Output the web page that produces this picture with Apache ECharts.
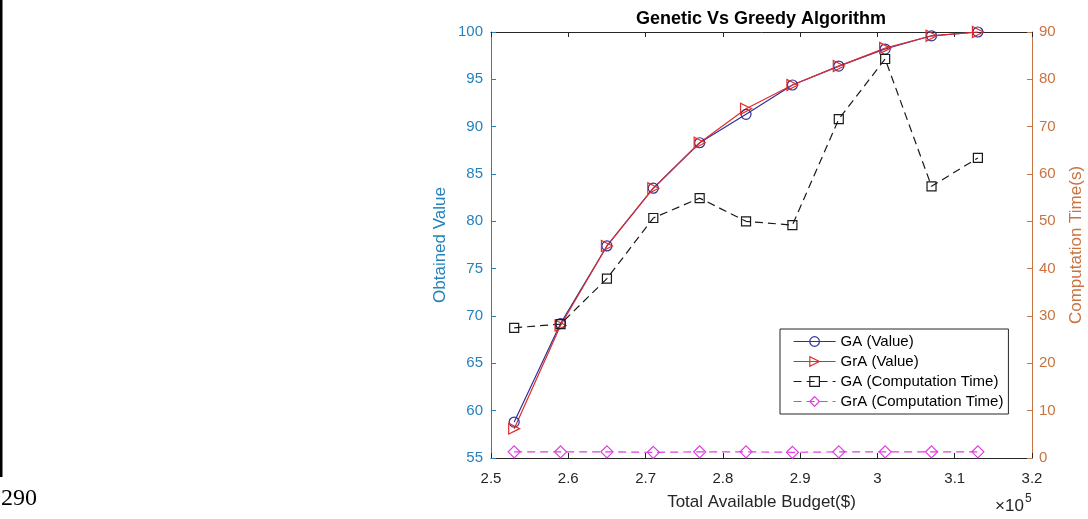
<!DOCTYPE html>
<html>
<head>
<meta charset="utf-8">
<script src="https://cdn.jsdelivr.net/npm/echarts@6/dist/echarts.min.js"></script>
<style>
  html, body { margin: 0; padding: 0; background: #fff; }
  #chart { width: 1088px; height: 519px; }
</style>
</head>
<body>
<div id="chart"></div>
<script>
// budget in $ (axis shows x 10^5)
const budget = [253000, 259000, 265000, 271000, 277000, 283000, 289000, 295000, 301000, 307000, 313000]
const gaValue = [58.8, 69.2, 77.4, 83.5, 88.3, 91.3, 94.4, 96.4, 98.2, 99.6, 100]
const graValue = [58.1, 69.0, 77.4, 83.5, 88.3, 91.9, 94.4, 96.4, 98.3, 99.6, 100]
const gaTime = [27.5, 28.3, 37.9, 50.7, 54.9, 50.0, 49.2, 71.6, 84.3, 57.4, 63.4]
const graTime = [1.3, 1.3, 1.3, 1.2, 1.3, 1.3, 1.2, 1.3, 1.3, 1.3, 1.3]

const FONT = '"Liberation Sans", Arial, Helvetica, sans-serif'
const LEFT_C = '#2382BC'
const RIGHT_C = '#C97340'
const AXIS_C = '#262626'

const pairs = (ys) => budget.map((x, i) => [x, ys[i]])

const chart = echarts.init(document.getElementById('chart'))

const xBase = {
  type: 'value',
  min: 250000,
  max: 320000,
  interval: 10000,
  splitLine: { show: false },
  axisLine: { lineStyle: { color: AXIS_C, width: 1 } },
  axisTick: { inside: true, length: 5, lineStyle: { color: AXIS_C } }
}

const lineSeries = (name, data, color, symbol, size, yIdx, dashed, rotate) => ({
  name: name,
  type: 'line',
  data: data,
  yAxisIndex: yIdx,
  symbol: symbol,
  symbolSize: size,
  symbolRotate: rotate || 0,
  showAllSymbol: true,
  lineStyle: { color: color, width: 1.2, type: dashed ? [8, 5] : 'solid' },
  itemStyle: { color: 'rgba(0,0,0,0)', borderColor: color, borderWidth: 1.2 },
  emphasis: { disabled: true },
  animation: false
})

chart.setOption({
  animation: false,
  textStyle: { fontFamily: FONT },
  title: {
    text: 'Genetic Vs Greedy Algorithm',
    left: 636,
    top: 10,
    padding: 0,
    textStyle: { fontFamily: FONT, fontSize: 18, fontWeight: 'bold', color: '#000' }
  },
  grid: { left: 491, right: 56, top: 32, bottom: 61 },
  legend: {
    orient: 'vertical',
    left: 780,
    top: 329,
    padding: [5, 5, 5, 13],
    itemGap: 5,
    itemWidth: 42,
    itemHeight: 12,
    backgroundColor: '#fff',
    borderColor: AXIS_C,
    borderWidth: 1,
    borderRadius: 0,
    lineStyle: { width: 1.2 },
    itemStyle: { borderWidth: 1.2 },
    textStyle: { fontFamily: FONT, fontSize: 15, lineHeight: 15, color: '#000' },
    data: ['GA (Value)', 'GrA (Value)', 'GA (Computation Time)', 'GrA (Computation Time)']
  },
  xAxis: [
    Object.assign({}, xBase, {
      position: 'bottom',
      name: 'Total Available Budget($)',
      nameLocation: 'middle',
      nameGap: 36,
      nameTextStyle: { fontFamily: FONT, fontSize: 17, color: AXIS_C },
      axisLabel: {
        margin: 13,
        fontSize: 15,
        color: AXIS_C,
        formatter: (v) => String(+(v / 1e5).toFixed(2))
      }
    }),
    Object.assign({}, xBase, {
      position: 'top',
      axisLabel: { show: false }
    })
  ],
  yAxis: [
    {
      type: 'value',
      position: 'left',
      min: 55,
      max: 100,
      interval: 5,
      splitLine: { show: false },
      axisLine: { show: true, lineStyle: { color: LEFT_C, width: 1 } },
      axisTick: { show: true, inside: true, length: 5, lineStyle: { color: LEFT_C } },
      axisLabel: { margin: 8, fontSize: 15, color: LEFT_C },
      name: 'Obtained Value',
      nameLocation: 'middle',
      nameRotate: 90,
      nameGap: 42,
      nameTextStyle: { fontFamily: FONT, fontSize: 17, color: LEFT_C }
    },
    {
      type: 'value',
      position: 'right',
      min: 0,
      max: 90,
      interval: 10,
      splitLine: { show: false },
      axisLine: { show: true, lineStyle: { color: RIGHT_C, width: 1 } },
      axisTick: { show: true, inside: true, length: 5, lineStyle: { color: RIGHT_C } },
      axisLabel: { margin: 7, fontSize: 15, color: RIGHT_C },
      name: 'Computation Time(s)',
      nameLocation: 'middle',
      nameRotate: 90,
      nameGap: 36,
      nameTextStyle: { fontFamily: FONT, fontSize: 17, color: RIGHT_C }
    }
  ],
  graphic: [
    // page border + page number from the scanned document
    { type: 'rect', left: 0, top: 0, shape: { width: 2.5, height: 477 }, style: { fill: '#000' } },
    { type: 'text', left: 1, top: 487, style: { text: '290', font: '24px "Liberation Serif", "Times New Roman", serif', fill: '#000' } },
    // axis exponent
    { type: 'text', left: 995, top: 498, style: { text: '×10', font: '17px ' + FONT, fill: AXIS_C } },
    { type: 'text', left: 1025, top: 493, style: { text: '5', font: '12px ' + FONT, fill: AXIS_C } }
  ],
  series: [
    lineSeries('GA (Value)', pairs(gaValue), '#30309A', 'circle', 10, 0, false),
    lineSeries('GrA (Value)', pairs(graValue), '#DD2E2A', 'triangle', 11, 0, false, -90),
    lineSeries('GA (Computation Time)', pairs(gaTime), '#1A1A1A', 'rect', 9, 1, true),
    lineSeries('GrA (Computation Time)', pairs(graTime), '#E03CE0', 'diamond', 12, 1, true)
  ]
})
</script>
</body>
</html>
